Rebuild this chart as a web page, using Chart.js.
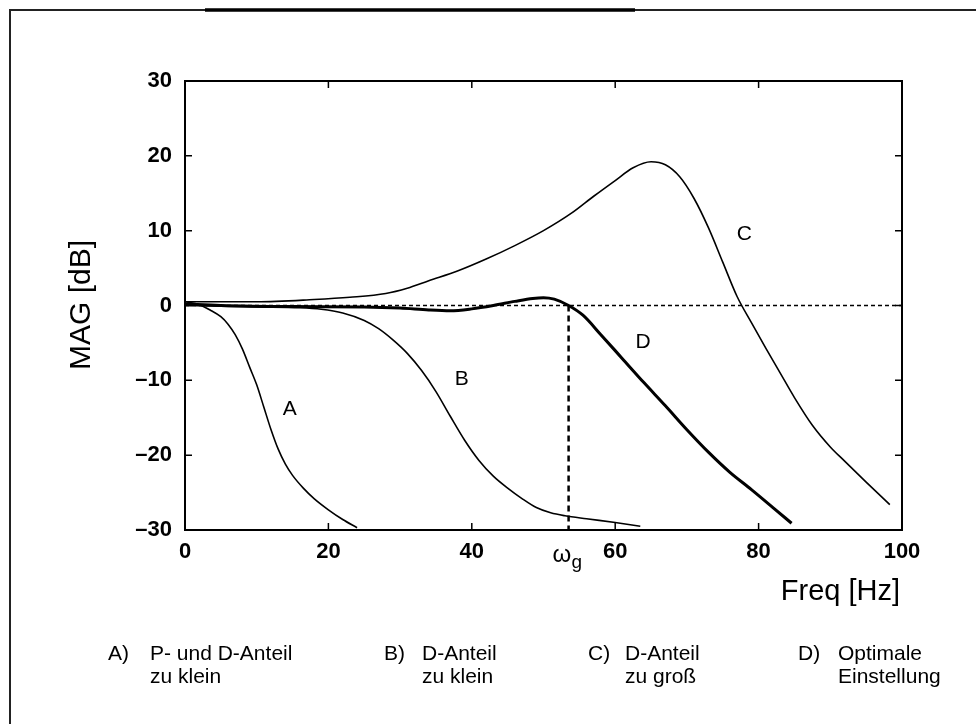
<!DOCTYPE html>
<html>
<head>
    <title>MAG [dB] - Freq [Hz]</title>
    <script src="https://cdn.jsdelivr.net/npm/chart.js"></script>
    <style>
        body { margin: 0; background: #fff; }
    </style>
</head>
<body>
    <canvas id="bode" width="976" height="724"></canvas>
    <script>
        // Werte: [Freq Hz, MAG dB]
        const kurveA = [[0, 0.5], [2, 0.1], [3.5, -0.6], [5, -1.5], [6, -2.5], [7, -3.9], [8, -5.8], [9, -8.2],
            [10, -10.6], [11, -13.6], [12, -16.6], [13, -19.2], [14, -21.2], [15, -22.7], [16.5, -24.4], [18, -25.8],
            [20, -27.3], [22, -28.6], [24, -29.7]];
        const kurveB = [[0, 0], [10, -0.2], [16, -0.3], [19, -0.5], [22, -1.0], [25, -2.0], [27, -3.1], [29, -4.6],
            [31, -6.4], [33, -8.7], [35, -11.5], [37, -14.8], [39, -18.0], [41, -20.7], [43, -22.8], [45, -24.4],
            [47, -25.8], [49, -27.0], [51, -27.7], [53, -28.1], [56, -28.5], [60, -29.0], [63.5, -29.5]];
        const kurveC = [[0, 0.5], [10, 0.5], [18, 0.8], [23, 1.1], [28, 1.6], [31, 2.3], [34, 3.3], [38, 4.6],
            [42, 6.2], [46, 8.0], [50, 10.0], [54, 12.4], [57, 14.6], [60, 16.7], [62.5, 18.4], [65, 19.2], [67, 18.8],
            [69, 17.2], [71, 14.3], [73, 10.4], [75, 5.8], [77, 1.2], [79, -2.3], [81, -5.7], [83, -9], [85, -12.3],
            [87.5, -16], [90, -18.9], [92, -20.8], [95, -23.6], [98.3, -26.6]];
        const kurveD = [[0, 0.2], [5, 0], [15, -0.15], [25, -0.2], [30, -0.35], [34, -0.6], [37, -0.7], [40, -0.45],
            [43, 0], [46, 0.55], [48.5, 0.95], [50, 1.05], [51.5, 0.85], [53.5, 0], [55.5, -1.3], [58, -3.9], [61, -7.1],
            [64, -10.3], [67, -13.4], [70, -16.6], [73, -19.6], [76, -22.3], [79, -24.6], [82, -27.0], [84.6, -29.1]];
        const nullLinie = [[0, 0], [100, 0]];
        const omegaG = 53.5;
        const xTicks = [0, 20, 40, 60, 80, 100];
        const yTicks = [-30, -20, -10, 0, 10, 20, 30];
        const kurvenNamen = ['A', 'B', 'C', 'D'];
        const kurvenLabelPos = [[14.6, -13.8], [38.6, -9.8], [78, 9.5], [63.9, -4.9]];
        const legende = [
            ['A)', 'P- und D-Anteil', 'zu klein'],
            ['B)', 'D-Anteil', 'zu klein'],
            ['C)', 'D-Anteil', 'zu groß'],
            ['D)', 'Optimale', 'Einstellung']
        ];

        const FONT = '"Liberation Sans", Arial, Helvetica, sans-serif';
        const pts = arr => arr.map(p => ({ x: p[0], y: p[1] }));

        function kurve(label, daten, breite) {
            return {
                label: label,
                data: pts(daten),
                borderColor: '#000',
                borderWidth: breite,
                pointRadius: 0,
                cubicInterpolationMode: 'monotone',
                fill: false
            };
        }

        const rahmen = {
            id: 'rahmen',
            afterDraw(chart) {
                const ctx = chart.ctx;
                const a = chart.chartArea;
                const xs = chart.scales.x, ys = chart.scales.y;
                ctx.save();
                // äußerer Rahmen (nur oben und links sichtbar)
                ctx.strokeStyle = '#222';
                ctx.lineWidth = 2;
                ctx.beginPath();
                ctx.moveTo(10, 724); ctx.lineTo(10, 10); ctx.lineTo(976, 10);
                ctx.stroke();
                ctx.strokeStyle = '#000';
                ctx.lineWidth = 3.5;
                ctx.beginPath();
                ctx.moveTo(205, 10); ctx.lineTo(635, 10);
                ctx.stroke();

                // Diagrammbox
                ctx.lineWidth = 2;
                ctx.strokeRect(a.left, a.top, a.right - a.left, a.bottom - a.top);

                // Ticks nach innen, gespiegelt
                ctx.lineWidth = 1.5;
                ctx.beginPath();
                xTicks.forEach(v => {
                    const px = xs.getPixelForValue(v);
                    ctx.moveTo(px, a.bottom); ctx.lineTo(px, a.bottom - 7);
                    ctx.moveTo(px, a.top); ctx.lineTo(px, a.top + 7);
                });
                yTicks.forEach(v => {
                    const py = ys.getPixelForValue(v);
                    ctx.moveTo(a.left, py); ctx.lineTo(a.left + 7, py);
                    ctx.moveTo(a.right, py); ctx.lineTo(a.right - 7, py);
                });
                ctx.stroke();

                ctx.fillStyle = '#000';
                // Kurvenbeschriftung
                ctx.font = '21px ' + FONT;
                ctx.textAlign = 'center';
                ctx.textBaseline = 'middle';
                kurvenNamen.forEach((n, i) => {
                    ctx.fillText(n, xs.getPixelForValue(kurvenLabelPos[i][0]), ys.getPixelForValue(kurvenLabelPos[i][1]));
                });

                // omega_g
                const ox = xs.getPixelForValue(omegaG);
                ctx.textAlign = 'left';
                ctx.textBaseline = 'alphabetic';
                ctx.font = '24px ' + FONT;
                ctx.fillText('ω', ox - 16, 562);
                ctx.font = '19px ' + FONT;
                ctx.fillText('g', ox + 3, 568);

                // Achsentitel
                ctx.font = '29px ' + FONT;
                ctx.textAlign = 'right';
                ctx.fillText('Freq [Hz]', 900, 600);
                ctx.save();
                ctx.translate(90, 305);
                ctx.rotate(-Math.PI / 2);
                ctx.textAlign = 'center';
                ctx.font = '30px ' + FONT;
                ctx.fillText('MAG [dB]', 0, 0);
                ctx.restore();

                // Legende unten
                const spalten = [[108, 150], [384, 422], [588, 625], [798, 838]];
                ctx.font = '21px ' + FONT;
                ctx.textAlign = 'left';
                legende.forEach((l, i) => {
                    ctx.fillText(l[0], spalten[i][0], 660);
                    ctx.fillText(l[1], spalten[i][1], 660);
                    ctx.fillText(l[2], spalten[i][1], 683);
                });
                ctx.restore();
            }
        };

        const ctx = document.getElementById('bode').getContext('2d');
        const chart = new Chart(ctx, {
            type: 'line',
            data: {
                datasets: [
                    kurve('A', kurveA, 1.6),
                    kurve('B', kurveB, 1.6),
                    kurve('C', kurveC, 1.6),
                    kurve('D', kurveD, 3),
                    {
                        label: 'null',
                        data: pts(nullLinie),
                        borderColor: '#000',
                        borderWidth: 1.5,
                        borderDash: [4, 3],
                        pointRadius: 0
                    },
                    {
                        label: 'omega_g',
                        data: pts([[omegaG, 0], [omegaG, -30]]),
                        borderColor: '#000',
                        borderWidth: 2.5,
                        borderDash: [6, 4],
                        pointRadius: 0
                    }
                ]
            },
            options: {
                responsive: false,
                animation: false,
                layout: { padding: { left: 0, top: 81, right: 74, bottom: 154 } },
                plugins: { legend: { display: false }, tooltip: { enabled: false } },
                scales: {
                    x: {
                        type: 'linear',
                        min: 0, max: 100,
                        afterFit: s => { s.height = 40; },
                        afterBuildTicks: s => { s.ticks = xTicks.map(v => ({ value: v })); },
                        grid: { display: false, drawTicks: false },
                        border: { display: false },
                        ticks: { color: '#000', padding: 9, font: { family: FONT, size: 22, weight: 'bold' } }
                    },
                    y: {
                        type: 'linear',
                        min: -30, max: 30,
                        afterFit: s => { s.width = 185; },
                        afterBuildTicks: s => { s.ticks = yTicks.map(v => ({ value: v })); },
                        grid: { display: false, drawTicks: false },
                        border: { display: false },
                        ticks: {
                            color: '#000', padding: 13,
                            font: { family: FONT, size: 22, weight: 'bold' },
                            callback: v => v < 0 ? '–' + Math.abs(v) : String(v)
                        }
                    }
                }
            },
            plugins: [rahmen]
        });
    </script>
</body>
</html>
